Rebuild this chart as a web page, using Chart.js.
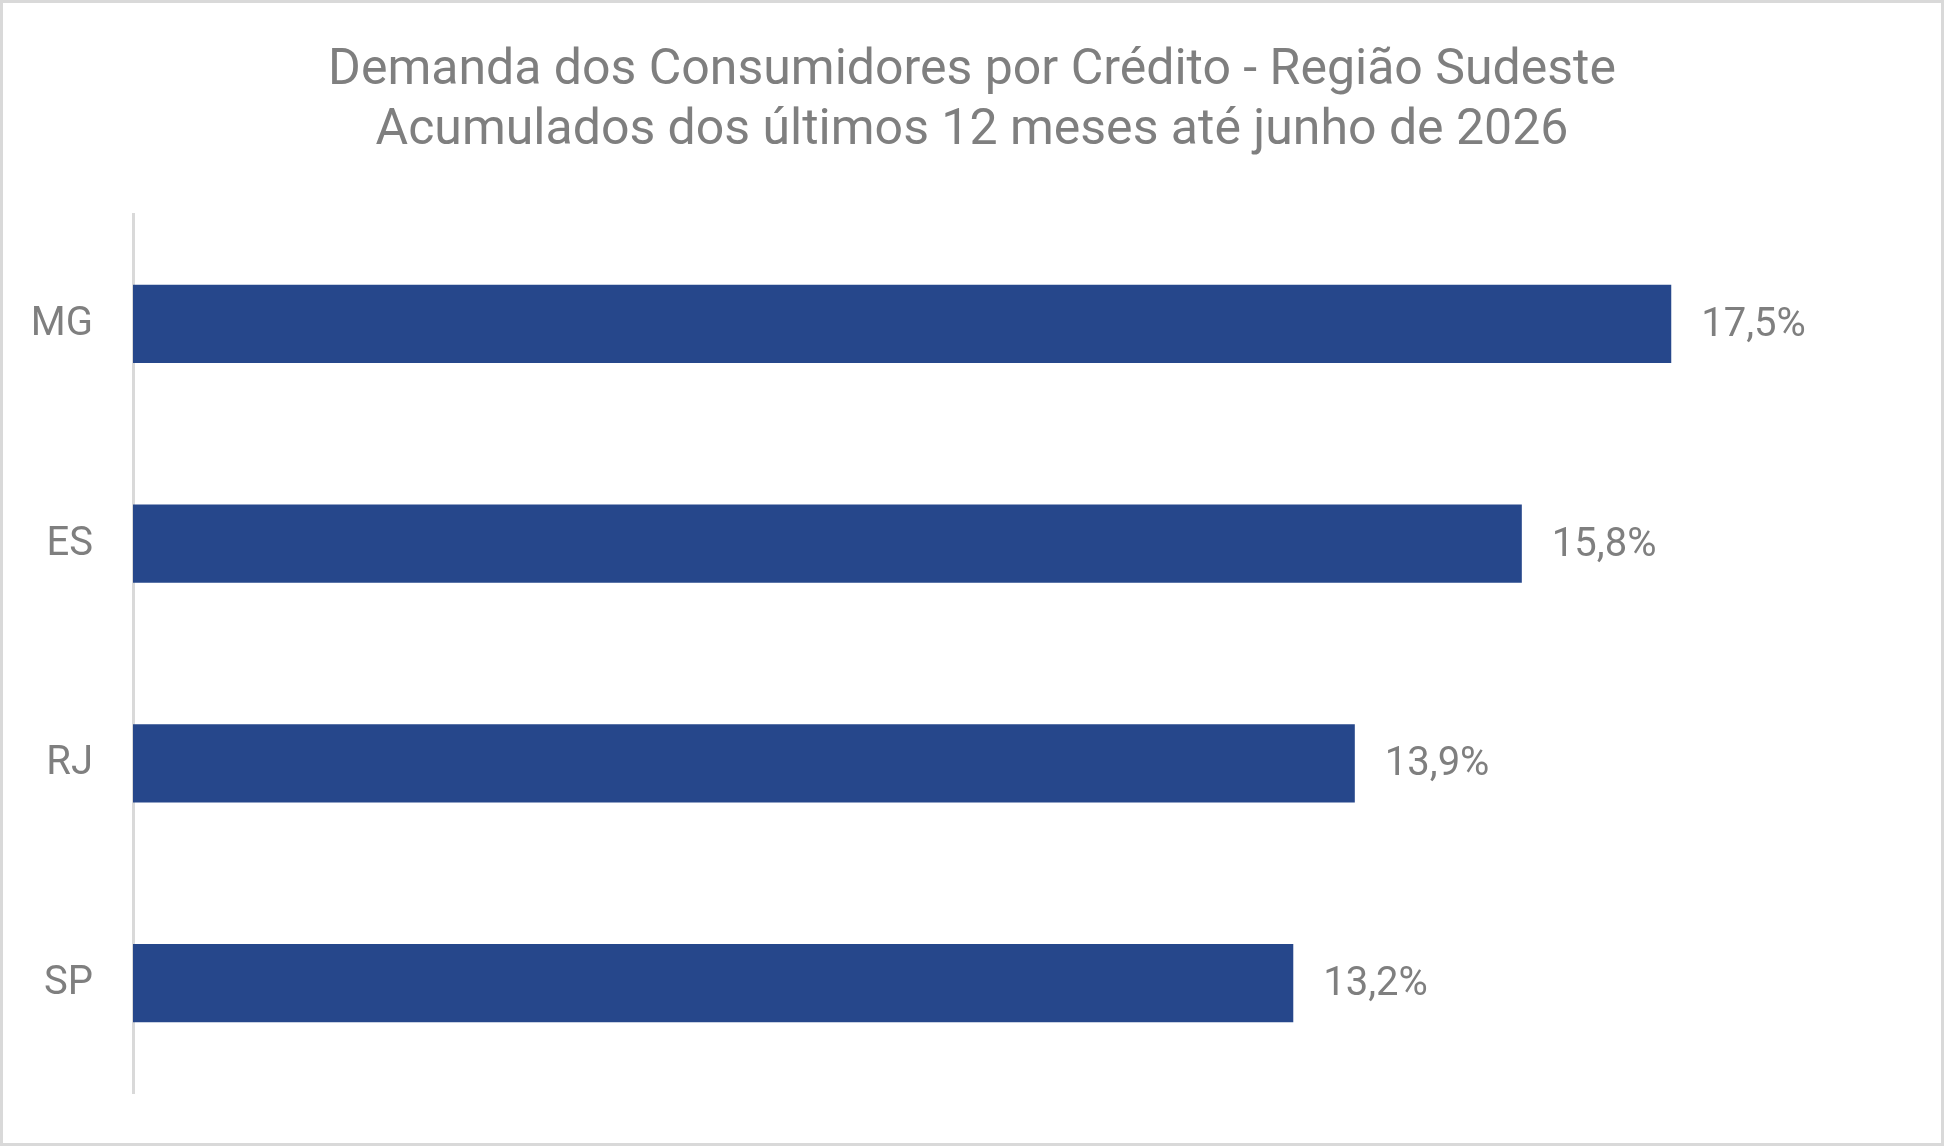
<!DOCTYPE html>
<html>
<head>
<meta charset="utf-8">
<script src="https://cdn.jsdelivr.net/npm/chart.js@4"></script>
<style>
  html, body { margin: 0; padding: 0; background: #ffffff; }
  #wrap { width: 1944px; height: 1146px; box-sizing: border-box; border: 3px solid #d9d9d9; background: #ffffff; }
  #wrap canvas { display: block; }
</style>
</head>
<body>
<div id="wrap"><canvas id="c" width="1938" height="1140"></canvas></div>
<script>
const categories = ['MG', 'ES', 'RJ', 'SP'];
const values = [17.5, 15.8, 13.9, 13.2];
const titleLines = ['Demanda dos Consumidores por Crédito - Região Sudeste', 'Acumulados dos últimos 12 meses até junho de 2026'];

const textColor = '#7f7f7f';
const barColor = '#26478b';

const valueLabels = {
  id: 'valueLabels',
  afterDatasetsDraw(chart) {
    const ctx = chart.ctx;
    const meta = chart.getDatasetMeta(0);
    ctx.save();
    ctx.font = '40px Roboto';
    ctx.fillStyle = textColor;
    ctx.textAlign = 'left';
    ctx.textBaseline = 'middle';
    meta.data.forEach((el, i) => {
      const txt = values[i].toFixed(1).replace('.', ',') + '%';
      ctx.fillText(txt, el.x + 30, el.y + 2);
    });
    ctx.restore();
  }
};

new Chart(document.getElementById('c'), {
  type: 'bar',
  data: {
    labels: categories,
    datasets: [{
      data: values,
      backgroundColor: barColor,
      borderWidth: 0,
      categoryPercentage: 1,
      barPercentage: 0.355
    }]
  },
  plugins: [valueLabels],
  options: {
    indexAxis: 'y',
    responsive: false,
    animation: false,
    devicePixelRatio: 1,
    layout: { padding: { top: 0, bottom: 50, left: 0, right: 0 } },
    plugins: {
      legend: { display: false },
      tooltip: { enabled: false },
      title: {
        display: true,
        text: titleLines,
        color: textColor,
        font: { family: 'Roboto', size: 50, weight: 'normal', lineHeight: 1.19 },
        padding: { top: 39, bottom: 53 }
      }
    },
    scales: {
      x: {
        display: false,
        min: 0,
        max: 20
      },
      y: {
        grid: { display: false, drawTicks: false },
        border: { display: true, color: '#d9d9d9', width: 3 },
        ticks: {
          color: textColor,
          font: { family: 'Roboto', size: 40 },
          padding: 40,
          labelOffset: 1
        },
        afterFit(scale) {
          scale.width = 130;
          scale.paddingTop = 0;
          scale.paddingBottom = 0;
        }
      },
      yRight: {
        type: 'category',
        axis: 'y',
        position: 'right',
        grid: { display: false, drawTicks: false },
        border: { display: false },
        ticks: { display: false },
        afterFit(scale) {
          scale.width = 50;
          scale.paddingTop = 0;
          scale.paddingBottom = 0;
        }
      }
    }
  }
});
</script>
</body>
</html>
